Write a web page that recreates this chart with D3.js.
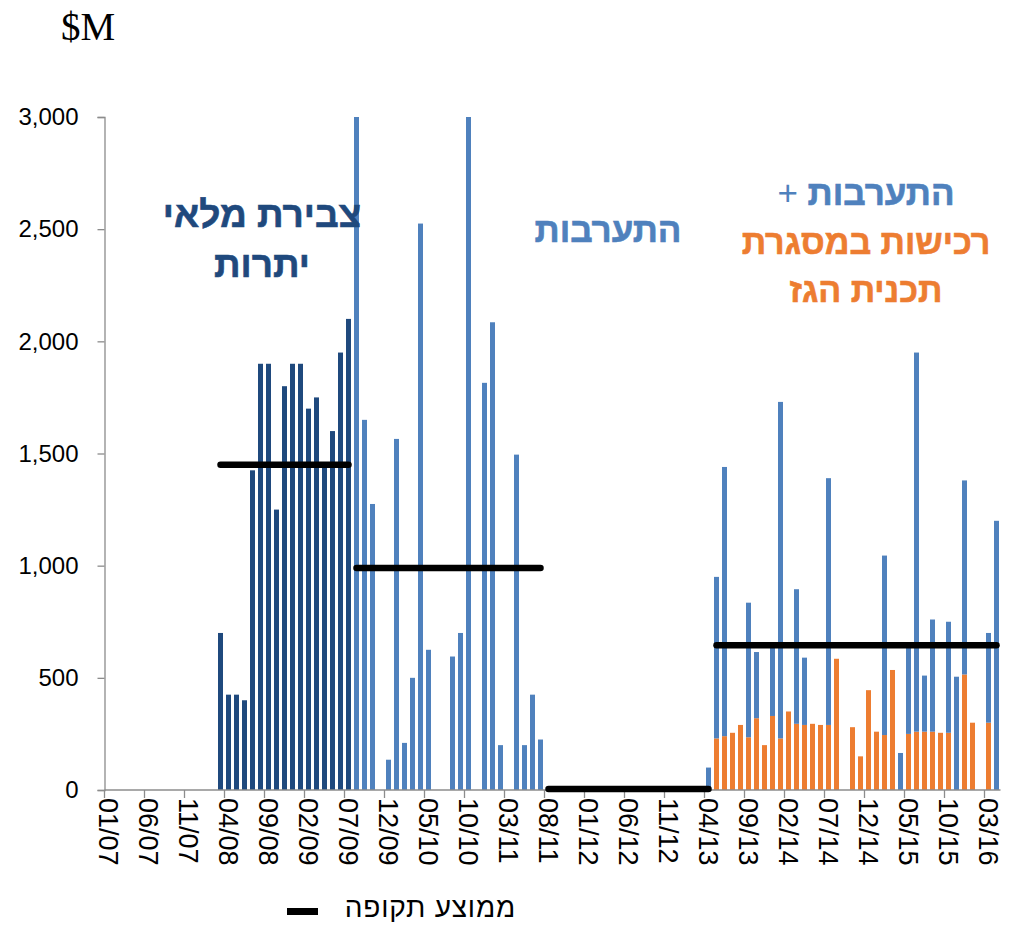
<!DOCTYPE html>
<html>
<head>
<meta charset="utf-8">
<script src="https://cdn.jsdelivr.net/npm/d3@7"></script>
<style>
  body { margin: 0; background: #fff; }
  svg { display: block; font-family: "Liberation Sans", Arial, sans-serif; }
</style>
</head>
<body>
<div id="chart"></div>
<script>
// x categories: every month from 01/07 to 04/16
const firstMonth = "01/07";
const lastMonth = "04/16";
const tickLabels = ["01/07", "06/07", "11/07", "04/08", "09/08", "02/09", "07/09", "12/09",
  "05/10", "10/10", "03/11", "08/11", "01/12", "06/12", "11/12", "04/13", "09/13",
  "02/14", "07/14", "12/14", "05/15", "10/15", "03/16"];
const yTicks = [0, 500, 1000, 1500, 2000, 2500, 3000];

// reserve accumulation (03/08 - 07/09), $M
const reserveStart = "03/08";
const reserveValues = [700, 425, 425, 400, 1425, 1900, 1900, 1250, 1800, 1900, 1900,
  1700, 1750, 1440, 1600, 1950, 2100];

// interventions (08/09 - 07/11), $M (two bars run past the 3,000 top)
const interventionStart = "08/09";
const interventionValues = [3000, 1650, 1275, 0, 135, 1565, 210, 500, 2525, 625, 0, 0,
  595, 700, 3000, 0, 1815, 2085, 200, 0, 1495, 200, 425, 225];

// 04/13 - 04/16: gas-programme purchases (bottom) + interventions (top), $M
const lateStart = "04/13";
const gasValues = [0, 230, 240, 255, 290, 235, 320, 200, 330, 230, 350, 295, 290, 295,
  290, 290, 585, 0, 280, 150, 445, 260, 245, 535, 0, 250, 260, 260, 260, 255, 255, 0,
  515, 300, 0, 300, 0];
const lateInterventionValues = [100, 720, 1200, 0, 0, 600, 295, 0, 310, 1500, 0, 600,
  300, 0, 0, 1100, 0, 0, 0, 0, 0, 0, 800, 0, 165, 390, 1690, 250, 500, 0, 495, 505,
  865, 0, 0, 400, 1200];

// period averages
const periodFrom = ["03/08", "08/09", "08/11", "05/13"];
const periodTo = ["07/09", "07/11", "04/13", "04/16"];
const periodAvg = [1450, 990, 5, 645];

const colors = { reserve: "#1F497D", intervention: "#4F81BD", gas: "#ED7D31", axis: "#8C8C8C" };

const W = 1009, H = 925;
const margin = { top: 117, right: 8, bottom: 135, left: 104.5 };

const parse = d3.timeParse("%m/%y");
const fmt = d3.timeFormat("%m/%y");
const months = d3.timeMonth.range(parse(firstMonth), d3.timeMonth.offset(parse(lastMonth), 1)).map(fmt);

const x = d3.scaleBand()
    .domain(months)
    .range([margin.left, margin.left + months.length * 8])
    .paddingInner(0.375)
    .paddingOuter(0.1875);
const y = d3.scaleLinear()
    .domain([0, 3000])
    .range([H - margin.bottom, margin.top])
    .clamp(true);

const svg = d3.select("#chart").append("svg")
    .attr("width", W)
    .attr("height", H);

function offsetMonth(start, i) {
  return fmt(d3.timeMonth.offset(parse(start), i));
}

// build rows from the arrays
const reserveRows = reserveValues.map((v, i) => ({ m: offsetMonth(reserveStart, i), y0: 0, y1: v }));
const interventionRows = interventionValues.map((v, i) => ({ m: offsetMonth(interventionStart, i), y0: 0, y1: v }));
const gasRows = gasValues.map((v, i) => ({ m: offsetMonth(lateStart, i), y0: 0, y1: v }));
const lateRows = lateInterventionValues.map((v, i) => ({ m: offsetMonth(lateStart, i), y0: gasValues[i], y1: gasValues[i] + v }));

function drawBars(rows, color) {
  svg.append("g").selectAll("rect")
    .data(rows.filter(d => d.y1 > d.y0))
    .join("rect")
      .attr("x", d => x(d.m))
      .attr("width", x.bandwidth())
      .attr("y", d => y(d.y1))
      .attr("height", d => y(d.y0) - y(d.y1))
      .attr("fill", color);
}
drawBars(reserveRows, colors.reserve);
drawBars(interventionRows, colors.intervention);
drawBars(gasRows, colors.gas);
drawBars(lateRows, colors.intervention);

// axes
const step = x.step();
const yAxis = svg.append("g")
    .attr("transform", `translate(${margin.left},0)`)
    .call(d3.axisLeft(y).tickValues(yTicks).tickFormat(d3.format(",")).tickSizeOuter(0).tickSize(7).tickPadding(19));
yAxis.select(".domain").attr("stroke", colors.axis).attr("stroke-width", 1.3);
yAxis.selectAll(".tick line").attr("stroke", colors.axis).attr("stroke-width", 1.3);
yAxis.selectAll(".tick text").attr("font-size", 24).attr("fill", "#000");

const xAxisG = svg.append("g")
    .attr("transform", `translate(0,${H - margin.bottom})`);
xAxisG.append("line")
    .attr("x1", margin.left).attr("x2", margin.left + months.length * step)
    .attr("stroke", colors.axis).attr("stroke-width", 1.3);
const xTicks = xAxisG.selectAll("g.xt")
  .data(tickLabels)
  .join("g")
    .attr("class", "xt")
    .attr("transform", d => `translate(${x(d) - x.step() * x.paddingInner() / 2},0)`);
xTicks.append("line")
    .attr("y2", 8)
    .attr("stroke", colors.axis).attr("stroke-width", 1.3);
xTicks.append("text")
    .attr("transform", `translate(${step / 2},8) rotate(90)`)
    .attr("dy", "0.35em")
    .attr("font-size", 27)
    .text(d => d);

// period average lines
svg.append("g").selectAll("line")
  .data(periodAvg.map((v, i) => ({ from: periodFrom[i], to: periodTo[i], v })))
  .join("line")
    .attr("x1", d => x(d.from) + x.bandwidth() / 2)
    .attr("x2", d => x(d.to) + x.bandwidth() / 2)
    .attr("y1", d => y(d.v))
    .attr("y2", d => y(d.v))
    .attr("stroke", "#000")
    .attr("stroke-width", 6.5)
    .attr("stroke-linecap", "round");

// unit label
svg.append("text")
    .attr("x", 61).attr("y", 40)
    .attr("font-family", "Liberation Serif, serif")
    .attr("font-size", 39)
    .text("$M");

// annotations
function note(xp, yp, txt, color, size) {
  return svg.append("text")
      .attr("x", xp).attr("y", yp)
      .attr("text-anchor", "middle")
      .attr("direction", "rtl")
      .attr("font-weight", "bold")
      .attr("font-size", size || 35)
      .attr("fill", color)
      .attr("stroke", color)
      .attr("stroke-width", 0.6)
      .text(txt);
}
note(262, 227, "צבירת מלאי", colors.reserve, 37);
note(262, 277, "יתרות", colors.reserve, 37);
note(608, 242, "התערבות", colors.intervention);
const plusNote = note(866, 205, "התערבות ", colors.intervention);
plusNote.append("tspan")
    .attr("font-weight", "normal")
    .attr("stroke-width", 0)
    .text("+");
note(866, 254, "רכישות במסגרת", colors.gas, 34);
note(866, 302, "תכנית הגז", colors.gas, 34);

// legend
svg.append("rect")
    .attr("x", 287).attr("y", 908).attr("width", 31).attr("height", 7)
    .attr("fill", "#000");
svg.append("text")
    .attr("x", 516).attr("y", 917)
    .attr("text-anchor", "start")
    .attr("direction", "rtl")
    .attr("font-size", 28)
    .attr("letter-spacing", 0.8)
    .text("ממוצע תקופה");
</script>
</body>
</html>
